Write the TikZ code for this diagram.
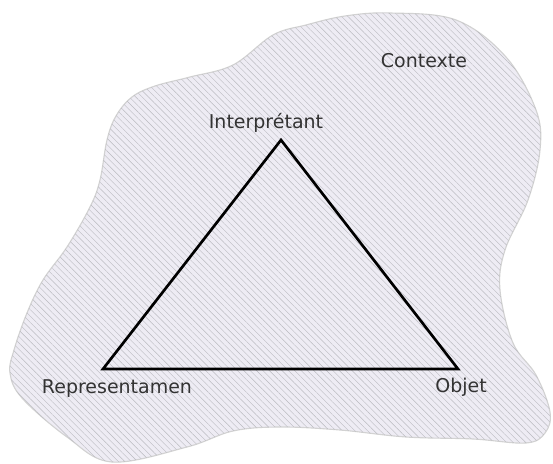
\documentclass[tikz,border=0pt]{standalone}
\usepackage{fontspec}
\setmainfont{DejaVu Sans}
\usetikzlibrary{patterns.meta}

\definecolor{blobfill}{RGB}{238,236,244}
\definecolor{hatch}{RGB}{186,186,192}

\begin{document}
\begin{tikzpicture}[x=0.025cm, y=-0.025cm, every node/.style={font=\fontsize{13.5}{16}\selectfont, text=black!80}, lbl/.style={anchor=base, inner sep=0pt}, side/.style={line width=1.9pt, line join=miter}]
	\useasboundingbox (0,0) rectangle (553,464);
	% context blob
	\path[fill=blobfill, draw=gray!35, line width=0.8pt] plot[smooth cycle, tension=0.6] coordinates {(390,13) (456,20) (506,57) (536,110) (540,150) (528,200) (505,250) (500,290) (513,343) (536,375) (550,412) (545,433) (526,443) (473,439) (406,437) (340,430) (280,427) (233,431) (187,447) (112,462) (67,437) (22,398) (10,373) (14,350) (27,313) (43,280) (67,247) (90,207) (100,180) (107,140) (116,116) (132,97) (155,86) (190,77) (233,65) (273,35) (306,25) (345,16)};
	\path[pattern={Lines[angle=-45, distance=3.2pt, line width=0.3pt]}, pattern color=hatch] plot[smooth cycle, tension=0.6] coordinates {(390,13) (456,20) (506,57) (536,110) (540,150) (528,200) (505,250) (500,290) (513,343) (536,375) (550,412) (545,433) (526,443) (473,439) (406,437) (340,430) (280,427) (233,431) (187,447) (112,462) (67,437) (22,398) (10,373) (14,350) (27,313) (43,280) (67,247) (90,207) (100,180) (107,140) (116,116) (132,97) (155,86) (190,77) (233,65) (273,35) (306,25) (345,16)};
	% triangle
	\coordinate (I) at (281,140);
	\coordinate (R) at (103,369);
	\coordinate (O) at (458,369);
	\draw[side] (I) -- (O) -- (R) -- cycle;
	\node[lbl] (Ilbl) at (266,129) {Interprétant};
	\node[lbl] (Rlbl) at (117,394) {Representamen};
	\node[lbl] (Olbl) at (461,393) {Objet};
	\node[lbl] (Clbl) at (424,68) {Contexte};
\end{tikzpicture}
\end{document}
